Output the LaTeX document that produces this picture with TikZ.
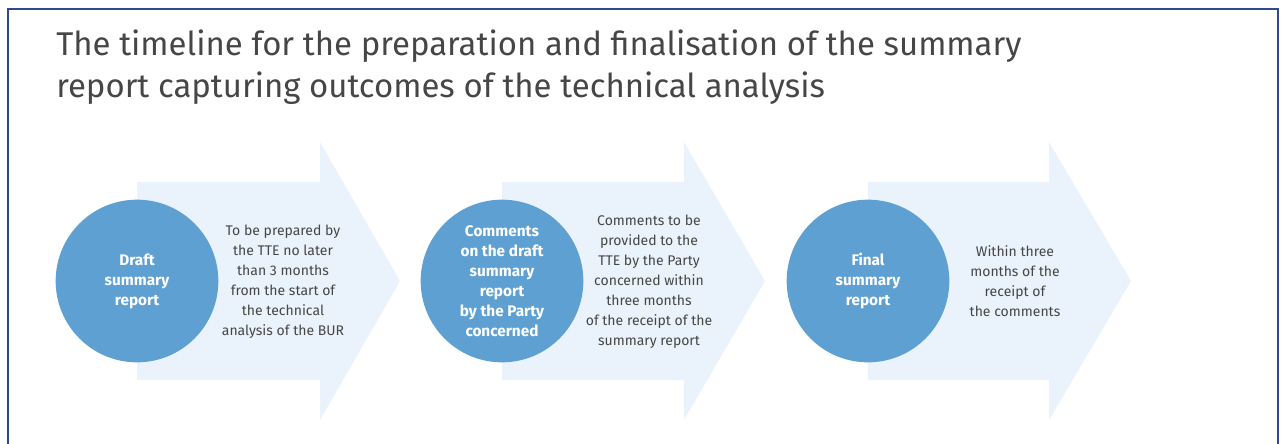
\documentclass[tikz,border=0pt]{standalone}
\usepackage{fontspec}
\setmainfont{Fira Sans}
\definecolor{framecol}{RGB}{46,74,140}
\definecolor{circcol}{RGB}{95,160,210}
\definecolor{arrowcol}{RGB}{234,243,251}
\definecolor{txtcol}{RGB}{70,70,70}

\begin{document}
\begin{tikzpicture}[x=0.75pt,y=0.75pt,yscale=-1,xscale=1,
  arrowbg/.style={fill=arrowcol,draw=none},
  stepcirc/.style={circle,fill=circcol,text=white,minimum size=122pt,inner sep=0pt,align=center,font=\fontsize{11.5}{15}\selectfont\bfseries},
  steptext/.style={text=txtcol,align=center,inner sep=0pt,font=\fontsize{10.5}{15}\selectfont}]
\useasboundingbox (0,0) rectangle (1281,443);
% frame
\draw [framecol,line width=1.5pt] (8,445) -- (8,9) -- (1278,9) -- (1278,445) ;
% title
\node [anchor=north west,inner sep=0pt,align=left,text=txtcol,font=\fontsize{24.7}{31}\selectfont] (title) at (56,30) {The timeline for the preparation and finalisation of the summary\\report capturing outcomes of the technical analysis};
% arrows
\draw [arrowbg] (137,182) -- (320,182) -- (320,142) -- (400,281) -- (320,420) -- (320,380) -- (137,380) -- cycle ;
\draw [arrowbg] (502,182) -- (684,182) -- (684,142) -- (765,281) -- (684,420) -- (684,380) -- (502,380) -- cycle ;
\draw [arrowbg] (868,182) -- (1049,182) -- (1049,142) -- (1131,281) -- (1049,420) -- (1049,380) -- (868,380) -- cycle ;
% circles
\node [stepcirc] (draft) at (137,281) {Draft\\summary\\report};
\node [stepcirc] (comments) at (502,281) {Comments\\on the draft\\summary\\report\\by the Party\\concerned};
\node [stepcirc] (final) at (868,281) {Final\\summary\\report};
% texts
\node [steptext] (drafttxt) at (283,282) {To be prepared by\\the TTE no later\\than 3 months\\from the start of\\the technical\\analysis of the BUR};
\node [steptext] (commentstxt) at (649,282) {Comments to be\\provided to the\\TTE by the Party\\concerned within\\three months\\of the receipt of the\\summary report};
\node [steptext] (finaltxt) at (1015,281) {Within three\\months of the\\receipt of\\the comments};
\end{tikzpicture}
\end{document}
